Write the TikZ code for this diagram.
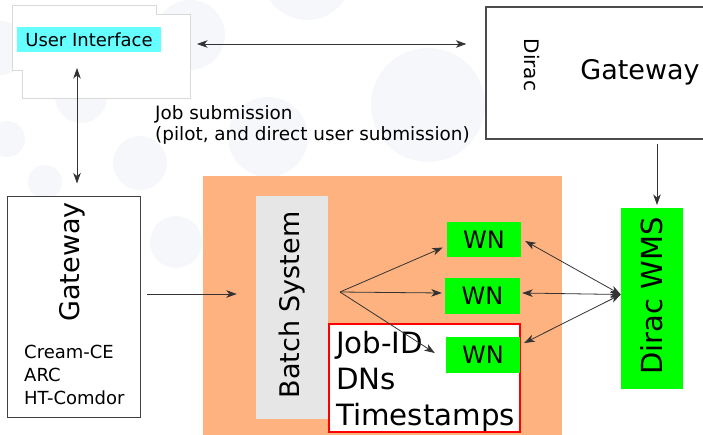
\documentclass[tikz,border=0pt]{standalone}
\usepackage{fontspec}
\setmainfont{DejaVu Sans}
\usetikzlibrary{arrows.meta}
\definecolor{kreisgrau}{RGB}{246,247,250}
\definecolor{orangebg}{RGB}{254,178,128}
\definecolor{wngruen}{RGB}{0,255,0}
\definecolor{uicyan}{RGB}{102,255,255}
\definecolor{batchgrau}{RGB}{230,230,230}
\def\groesse#1#2{\fontsize{#1}{#2}\selectfont}
\def\kreis#1#2#3{
	\fill[kreisgrau] (#1,#2) circle[radius=#3pt];
}
\begin{document}
\begin{tikzpicture}[x=1pt,y=-1pt,>={Stealth[length=10.5pt,width=7.5pt,inset=3pt]},
	pfeil/.style={->,draw=black!80,line width=0.8pt},
	doppel/.style={<->,draw=black!80,line width=0.8pt},
	kasten/.style={draw=black!75,line width=1pt,fill=white,inner sep=0pt},
	gruen/.style={fill=wngruen,inner sep=0pt}]
\useasboundingbox (0,0) rectangle (703,434);
\kreis{307}{-25}{45}
\kreis{190}{35}{35}
\kreis{428}{105}{57}
\kreis{268}{137}{40}
\kreis{81}{97}{26}
\kreis{0}{48}{27}
\kreis{7}{139}{18}
\kreis{140}{163}{27}
\kreis{45}{182}{17}
\kreis{176}{242}{26}
% oben links
\draw[black!15,line width=1pt,fill=white] (12,5) -- (156,5) -- (156,14) -- (190,14)
	-- (190,98) -- (22,98) -- (22,70) -- (12,70) -- cycle;
\node[fill=uicyan,minimum width=144pt,minimum height=25pt,inner sep=0pt,
	font=\groesse{18}{22}] (ui) at (89,39.5) {User Interface};
\coordinate (uiO) at (190,44);
\coordinate (uiS) at (77,68);
\node[anchor=north west,inner sep=0pt,align=left,font=\groesse{18.4}{21}] (jobtext)
	at (155,105) {Job submission\\(pilot, and direct user submission)};
% oben rechts
\node[kasten,draw=black!70,line width=1.3pt,minimum width=224pt,minimum height=132pt]
	(dgw) at (598,73) {};
\node[rotate=-90,font=\groesse{20}{24}] (dgwa) at (532,65) {Dirac};
\node[font=\groesse{27}{32}] (dgwb) at (640,72) {Gateway};
\draw[doppel,shorten <=7pt,shorten >=19pt] (uiO) -- (uiO -| dgw.west);
% links
\node[kasten,minimum width=133pt,minimum height=221pt] (gwl) at (73.5,306.5) {};
\node[rotate=90,font=\groesse{27}{32}] (gwla) at (72,262) {Gateway};
\node[anchor=north west,inner sep=0pt,align=left,font=\groesse{18}{23}] (gwlb)
	at (24,345) {Cream-CE\\ARC\\HT-Comdor};
\draw[doppel,shorten >=12pt] (uiS) -- (uiS |- gwl.north);
% site
\fill[orangebg] (203,176) rectangle (562,440);
\node[fill=batchgrau,minimum width=72pt,minimum height=223pt,inner sep=0pt] (batch)
	at (292,307.5) {};
\node[rotate=90,font=\groesse{27}{32}] (batcha) at (292,305) {Batch System};
\node[draw=red,line width=1.5pt,fill=white,minimum width=191pt,minimum height=108pt]
	(ids) at (424.5,378) {};
\node[anchor=north west,inner sep=0pt,align=left,font=\groesse{29.3}{36}] (idsa)
	at (336,331) {Job-ID\\DNs\\Timestamps};
\node[gruen,minimum width=74pt,minimum height=35pt,font=\groesse{24}{28}] (wn1)
	at (484,239.5) {WN};
\node[gruen,minimum width=75pt,minimum height=36pt,font=\groesse{24}{28}] (wn2)
	at (482.5,296) {WN};
\node[gruen,minimum width=74pt,minimum height=36pt,font=\groesse{24}{28}] (wn3)
	at (483,355) {WN};
\coordinate (ein) at (140,294);
\draw[pfeil,shorten <=7pt,shorten >=19pt] (ein) -- (ein -| batch.west);
\coordinate (fan) at (340,292);
\draw[pfeil] (fan) -- ([shift={(-4,8)}]wn1.west);
\draw[pfeil] (fan) -- ([shift={(-3,-3)}]wn2.west);
\draw[pfeil] (fan) -- ([shift={(-11,-2)}]wn3.west);
% dirac wms
\node[gruen,minimum width=62pt,minimum height=181pt] (wms) at (652,298.5) {};
\node[rotate=90,font=\groesse{29}{33}] (wmsa) at (652,296) {Dirac WMS};
\coordinate (wmsn) at (657,208);
\draw[pfeil,shorten <=4pt,shorten >=3pt] (wmsn |- dgw.south) -- (wmsn);
\draw[doppel] ([shift={(4,1.5)}]wn1.east) -- ([shift={(0,-4)}]wms.west);
\draw[doppel] ([shift={(2,-3)}]wn2.east) -- ([shift={(0,-4)}]wms.west);
\draw[doppel] ([shift={(4,-12)}]wn3.east) -- ([shift={(0,-4)}]wms.west);
\end{tikzpicture}
\end{document}
